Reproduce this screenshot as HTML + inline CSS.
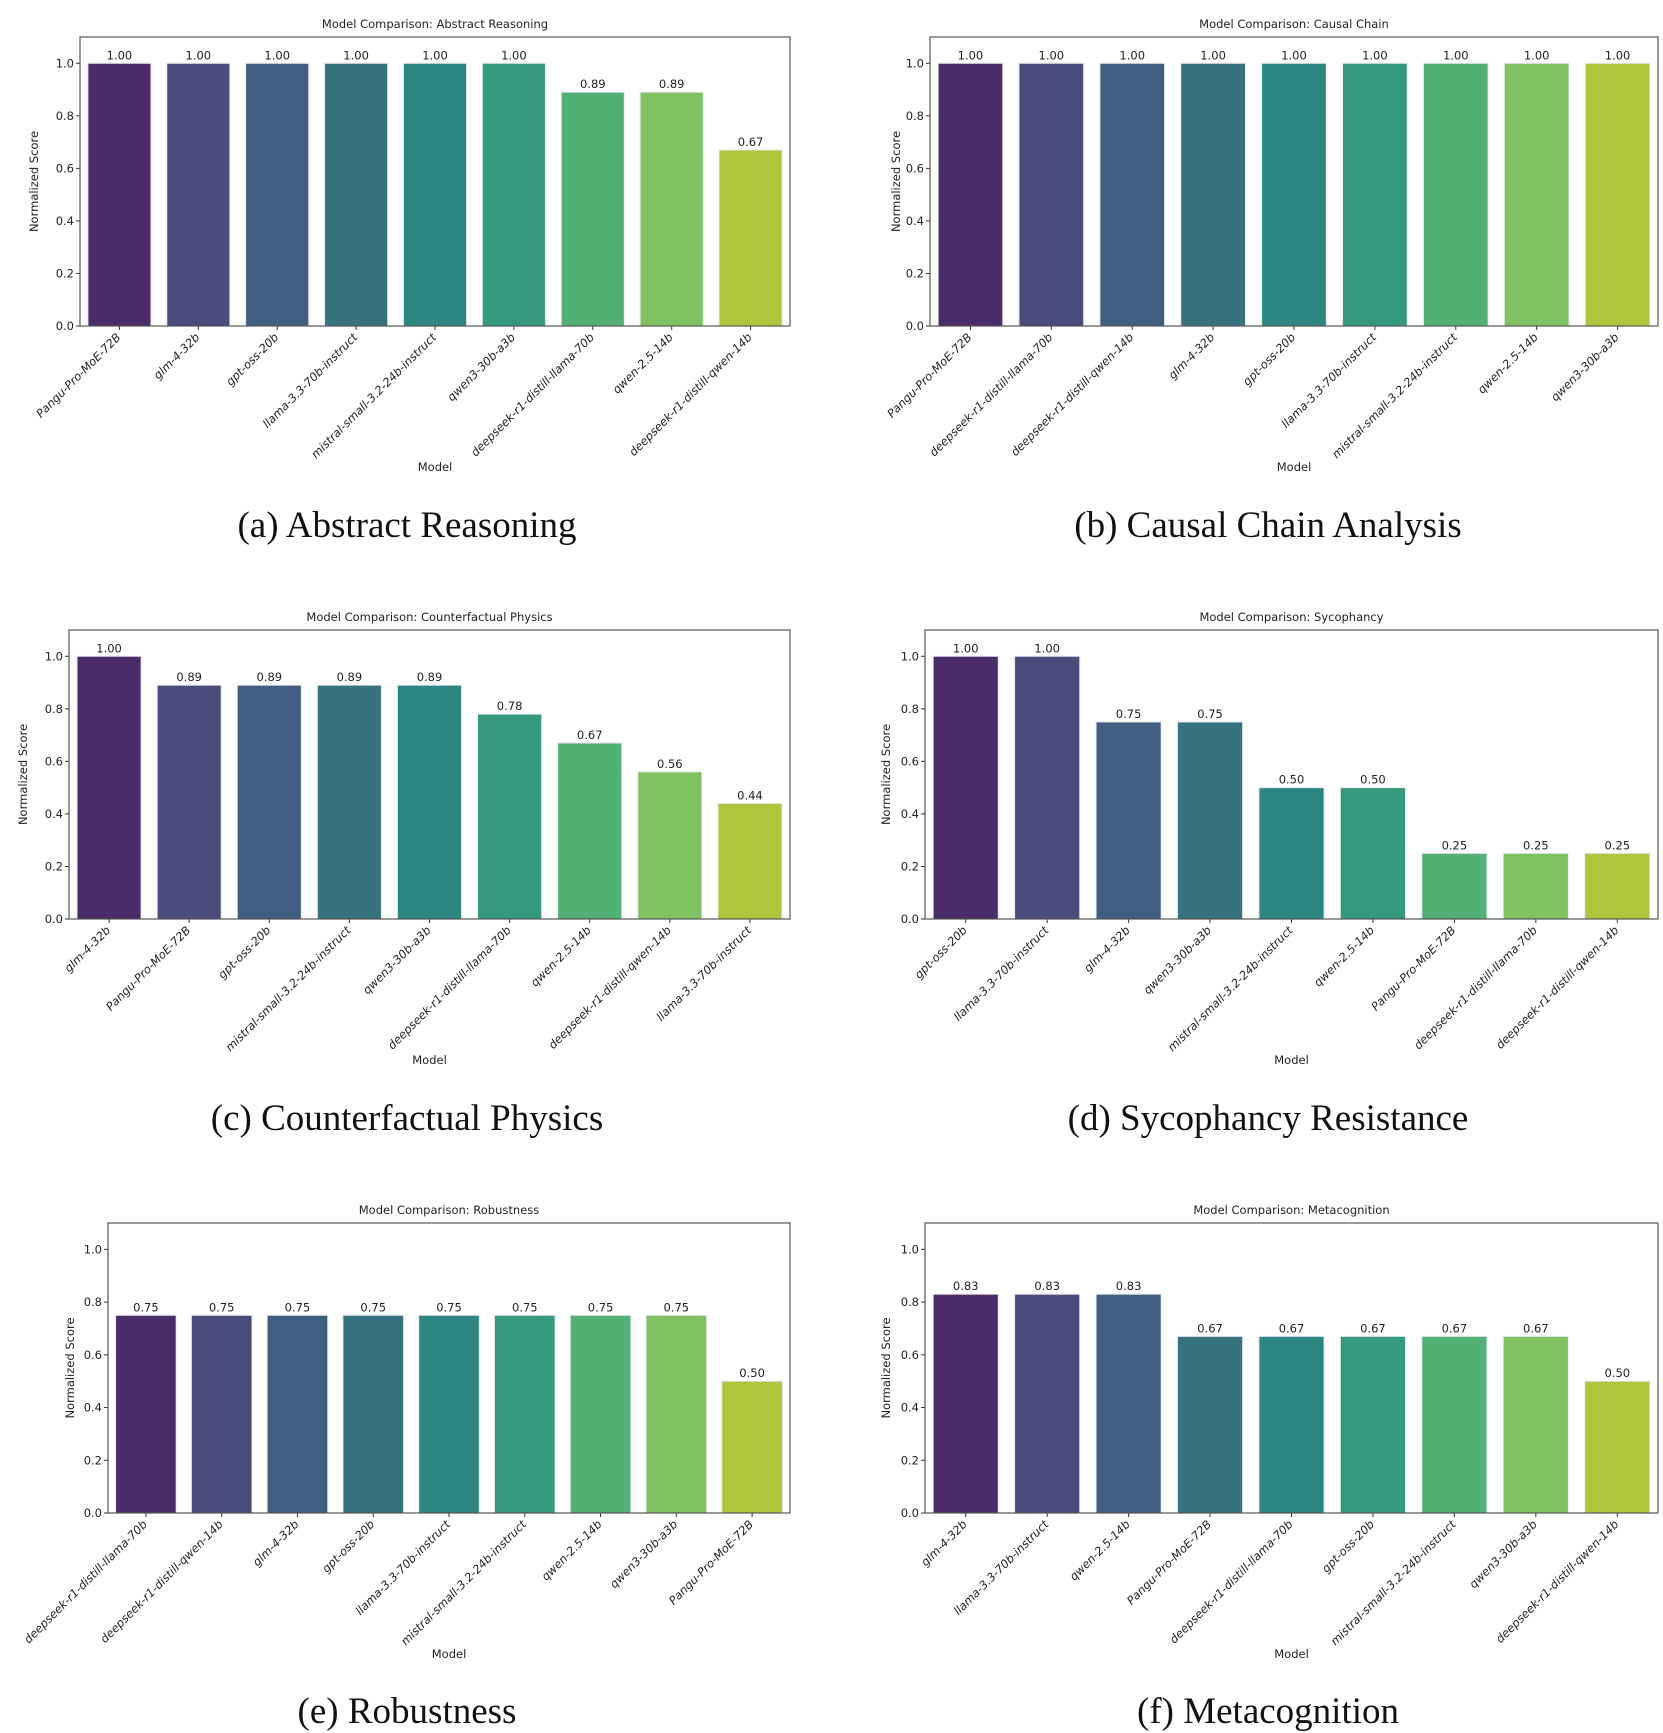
<!DOCTYPE html>
<html><head><meta charset="utf-8"><style>
body{margin:0;background:#fff;width:1663px;height:1733px;overflow:hidden}
svg{display:block}
.tk{font-family:"DejaVu Sans","Liberation Sans",sans-serif;font-size:11.5px;fill:#222}
.cap{font-family:"Liberation Serif",serif;font-size:37px;fill:#111}
</style></head><body>
<svg id="fig" width="1663" height="1733"></svg>
<script>
const colors=['#4b2c6a','#4a4c7c','#405e80','#37727f','#2e8680','#35997b','#52b075','#80c262','#aec63c'];
const yTicks=[0,0.2,0.4,0.6,0.8,1.0];
const yTickLabels=['0.0','0.2','0.4','0.6','0.8','1.0'];
const catsA=['Pangu-Pro-MoE-72B','glm-4-32b','gpt-oss-20b','llama-3.3-70b-instruct','mistral-small-3.2-24b-instruct','qwen3-30b-a3b','deepseek-r1-distill-llama-70b','qwen-2.5-14b','deepseek-r1-distill-qwen-14b'];
const valsA=[1,1,1,1,1,1,0.89,0.89,0.67];
const catsB=['Pangu-Pro-MoE-72B','deepseek-r1-distill-llama-70b','deepseek-r1-distill-qwen-14b','glm-4-32b','gpt-oss-20b','llama-3.3-70b-instruct','mistral-small-3.2-24b-instruct','qwen-2.5-14b','qwen3-30b-a3b'];
const valsB=[1,1,1,1,1,1,1,1,1];
const catsC=['glm-4-32b','Pangu-Pro-MoE-72B','gpt-oss-20b','mistral-small-3.2-24b-instruct','qwen3-30b-a3b','deepseek-r1-distill-llama-70b','qwen-2.5-14b','deepseek-r1-distill-qwen-14b','llama-3.3-70b-instruct'];
const valsC=[1,0.89,0.89,0.89,0.89,0.78,0.67,0.56,0.44];
const catsD=['gpt-oss-20b','llama-3.3-70b-instruct','glm-4-32b','qwen3-30b-a3b','mistral-small-3.2-24b-instruct','qwen-2.5-14b','Pangu-Pro-MoE-72B','deepseek-r1-distill-llama-70b','deepseek-r1-distill-qwen-14b'];
const valsD=[1,1,0.75,0.75,0.5,0.5,0.25,0.25,0.25];
const catsE=['deepseek-r1-distill-llama-70b','deepseek-r1-distill-qwen-14b','glm-4-32b','gpt-oss-20b','llama-3.3-70b-instruct','mistral-small-3.2-24b-instruct','qwen-2.5-14b','qwen3-30b-a3b','Pangu-Pro-MoE-72B'];
const valsE=[0.75,0.75,0.75,0.75,0.75,0.75,0.75,0.75,0.5];
const catsF=['glm-4-32b','llama-3.3-70b-instruct','qwen-2.5-14b','Pangu-Pro-MoE-72B','deepseek-r1-distill-llama-70b','gpt-oss-20b','mistral-small-3.2-24b-instruct','qwen3-30b-a3b','deepseek-r1-distill-qwen-14b'];
const valsF=[0.83,0.83,0.83,0.67,0.67,0.67,0.67,0.67,0.5];

const NS='http://www.w3.org/2000/svg';
const fig=document.getElementById('fig');
function mk(tag,attrs,parent,text){const e=document.createElementNS(NS,tag);for(const k in attrs)e.setAttribute(k,attrs[k]);if(text!==undefined)e.textContent=text;parent.appendChild(e);return e;}

function chart(id,title,cats,vals,L,R,T,B,caption,capX,capY,ylX){
  const g=mk('g',{},fig);
  
  
  const ys=v=>B-(v/1.1)*(B-T);
  const slot=(R-L)/cats.length;
  const xs=i=>L+slot*(i+0.5);
  const t=mk('text',{x:(L+R)/2,y:T-9,'text-anchor':'middle',class:'tk','font-size':'12.5'},g,'Model Comparison: '+title);
  
  
  yTicks.forEach((v,i)=>{
    if(ys(v)<T)return;
    mk('line',{x1:L-4,x2:L,y1:ys(v),y2:ys(v),stroke:'#333'},g);
    const tl=mk('text',{x:L-6,y:ys(v)+4,'text-anchor':'end',class:'tk'},g,yTickLabels[i]);
    
    
  });
  cats.forEach((c,i)=>{
    const x=xs(i),w=slot*0.8;
    const r=mk('rect',{x:x-w/2,y:ys(vals[i]),width:w,height:B-ys(vals[i]),fill:colors[i],stroke:'#e8e8f0','stroke-width':1},g);
    
    
    const vl=mk('text',{x:x,y:ys(vals[i])-4,'text-anchor':'middle',class:'tk'},g,vals[i].toFixed(2));
    
    
    mk('line',{x1:x,x2:x,y1:B,y2:B+4,stroke:'#333'},g);
    const xl=mk('text',{x:0,y:0,'text-anchor':'end',class:'tk','font-style':'italic',transform:`translate(${x+2},${B+12}) rotate(-45)`},g,c);
    
    
  });
  mk('rect',{x:L,y:T,width:R-L,height:B-T,fill:'none',stroke:'#555','stroke-width':1.2},g);
  const xt=mk('text',{x:(L+R)/2,y:B+145,'text-anchor':'middle',class:'tk'},g,'Model');
  
  
  const yt=mk('text',{x:0,y:0,'text-anchor':'middle',class:'tk',transform:`translate(${ylX},${(T+B)/2}) rotate(-90)`},g,'Normalized Score');
  
  
  const cp=mk('text',{x:capX,y:capY,'text-anchor':'middle',class:'cap'},g,caption);
  
  
}
chart('a','Abstract Reasoning',catsA,valsA,80,790,37,326,'(a) Abstract Reasoning',407,537,38);
chart('b','Causal Chain',catsB,valsB,930,1658,37,326,'(b) Causal Chain Analysis',1268,537,900);
chart('c','Counterfactual Physics',catsC,valsC,69,790,630,919,'(c) Counterfactual Physics',407,1130,27);
chart('d','Sycophancy',catsD,valsD,925,1658,630,919,'(d) Sycophancy Resistance',1268,1130,890);
chart('e','Robustness',catsE,valsE,108,790,1223,1513,'(e) Robustness',407,1723,74);
chart('f','Metacognition',catsF,valsF,925,1658,1223,1513,'(f) Metacognition',1268,1723,890);
</script>
</body></html>
